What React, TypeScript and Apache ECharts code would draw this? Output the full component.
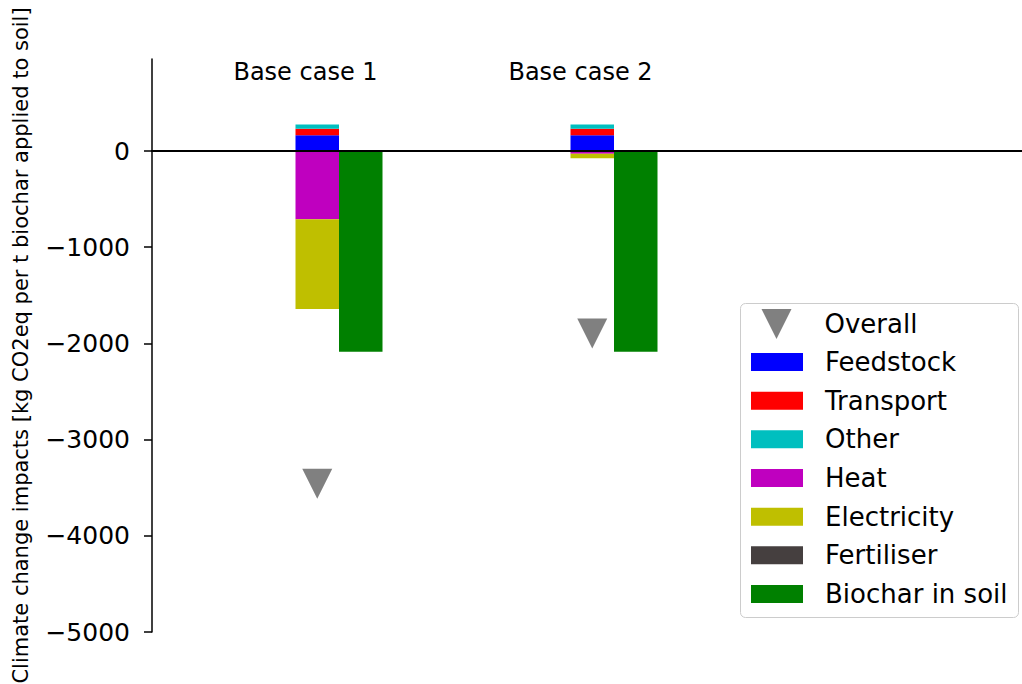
import React, { useEffect, useRef } from 'react';
import * as echarts from 'echarts';

const categories = ['Base case 1', 'Base case 2'];
const categoryPositions = [1, 2];
const feedstock = [165, 165];
const transport = [68, 68];
const other = [42, 42];
const heat = [-708, -28];
const electricity = [-935, -48];
const fertiliser = [0, 0];
const biochar = [-2087, -2087];
const overall = [-3458, -1896];

const yMin = -5000;
const yMax = 957;
const yTicks = [-5000, -4000, -3000, -2000, -1000, 0];
const xMin = 0.32;
const xMax = 3.4836;
const caseLabelY = 827;

const yAxisTitle = 'Climate change impacts [kg CO2eq per t biochar applied to soil]';

const FONT = 'DejaVu Sans';

const colors: Record<string, string> = {
  Overall: '#808080',
  Feedstock: '#0000ff',
  Transport: '#ff0000',
  Other: '#00bfbf',
  Heat: '#bf00bf',
  Electricity: '#bfbf00',
  Fertiliser: '#453f3f',
  'Biochar in soil': '#008000',
};

const BAR_W = 43.5;

export default function App() {
  const ref = useRef<HTMLDivElement>(null);

  useEffect(() => {
    const chart = echarts.init(ref.current!, null, { renderer: 'svg' });

    // value first, position second, so that stacking runs on the value dimension
    const rows = (values: number[]) => categoryPositions.map((x, i) => [values[i], x]);

    const stacked = (name: string, values: number[]) => ({
      name,
      type: 'bar',
      stack: 'components',
      stackStrategy: 'samesign',
      data: rows(values),
      encode: { x: 1, y: 0 },
      barWidth: BAR_W,
      barGap: '0%',
      itemStyle: { color: colors[name] },
      emphasis: { disabled: true },
      z: 2,
    });

    const option: any = {
      animation: false,
      textStyle: { fontFamily: FONT },
      grid: { left: 152, right: 0, top: 59, bottom: 52, containLabel: false, outerBoundsMode: 'none' },
      xAxis: {
        type: 'value',
        min: xMin,
        max: xMax,
        z: 5,
        axisLine: { show: true, onZero: true, lineStyle: { color: '#000', width: 2 } },
        axisTick: { show: false },
        axisLabel: { show: false },
        splitLine: { show: false },
      },
      yAxis: {
        type: 'value',
        min: yMin,
        max: yMax,
        name: yAxisTitle,
        nameLocation: 'middle',
        nameGap: 121,
        nameTextStyle: { fontFamily: FONT, fontSize: 21, color: '#000' },
        axisLine: { show: true, onZero: false, lineStyle: { color: '#000', width: 1.5 } },
        axisTick: { show: true, length: 8, customValues: yTicks, lineStyle: { color: '#000', width: 1.5 } },
        axisLabel: {
          fontFamily: FONT,
          fontSize: 25,
          color: '#000',
          margin: 22,
          customValues: yTicks,
          formatter: (v: number) => (v < 0 ? '\u2212' + Math.abs(v) : String(v)),
        },
        splitLine: { show: false },
      },
      legend: [
        {
          data: [{ name: 'Overall', icon: 'path://M0 0L2 0L1 2Z' }],
          left: 761.5,
          top: 309,
          orient: 'vertical',
          itemWidth: 52,
          itemHeight: 30,
          padding: 0,
          selectedMode: false,
          textStyle: { fontFamily: FONT, fontSize: 26, color: '#000', padding: [0, 0, 0, 17], lineHeight: 30 },
          z: 5,
        },
        {
          data: ['Feedstock', 'Transport', 'Other', 'Heat', 'Electricity', 'Fertiliser', 'Biochar in soil'].map(
            (n) => ({ name: n, icon: 'rect' })
          ),
          left: 751,
          top: 349,
          orient: 'vertical',
          itemWidth: 52,
          itemHeight: 18,
          itemGap: 12.67,
          padding: 0,
          selectedMode: false,
          textStyle: { fontFamily: FONT, fontSize: 26, color: '#000', padding: [0, 0, 0, 17], lineHeight: 18 },
          z: 5,
        },
      ],
      graphic: [
        {
          type: 'rect',
          z: 3,
          shape: { x: 740.5, y: 303.5, width: 278, height: 314, r: 5 },
          style: { fill: 'rgba(255,255,255,0.8)', stroke: '#cccccc', lineWidth: 1 },
        },
      ],
      series: [
        stacked('Feedstock', feedstock),
        stacked('Transport', transport),
        stacked('Other', other),
        stacked('Heat', heat),
        stacked('Electricity', electricity),
        stacked('Fertiliser', fertiliser),
        {
          name: 'Biochar in soil',
          type: 'bar',
          data: rows(biochar),
          encode: { x: 1, y: 0 },
          barWidth: BAR_W,
          barGap: '0%',
          itemStyle: { color: colors['Biochar in soil'] },
          emphasis: { disabled: true },
        },
        {
          name: 'Overall',
          type: 'scatter',
          data: categoryPositions.map((x, i) => [x, overall[i]]),
          symbol: 'path://M0 0L2 0L1 2Z',
          symbolSize: 30,
          symbolOffset: [-BAR_W / 2, 0],
          itemStyle: { color: colors.Overall, opacity: 1 },
          emphasis: { disabled: true },
          z: 4,
        },
        {
          name: 'caseLabels',
          type: 'scatter',
          data: categoryPositions.map((x) => [x, caseLabelY]),
          symbolSize: 0,
          silent: true,
          itemStyle: { opacity: 1 },
          label: {
            show: true,
            position: 'inside',
            offset: [-33.5, 0],
            fontFamily: FONT,
            fontSize: 24,
            color: '#000',
            opacity: 1,
            formatter: (p: any) => categories[p.dataIndex],
          },
          z: 4,
        },
      ],
    };

    chart.setOption(option);
    return () => chart.dispose();
  }, []);

  return (
    <div
      ref={ref}
      style={{ position: 'absolute', left: 0, top: 0, width: 1022, height: 684, background: '#fff' }}
    />
  );
}
